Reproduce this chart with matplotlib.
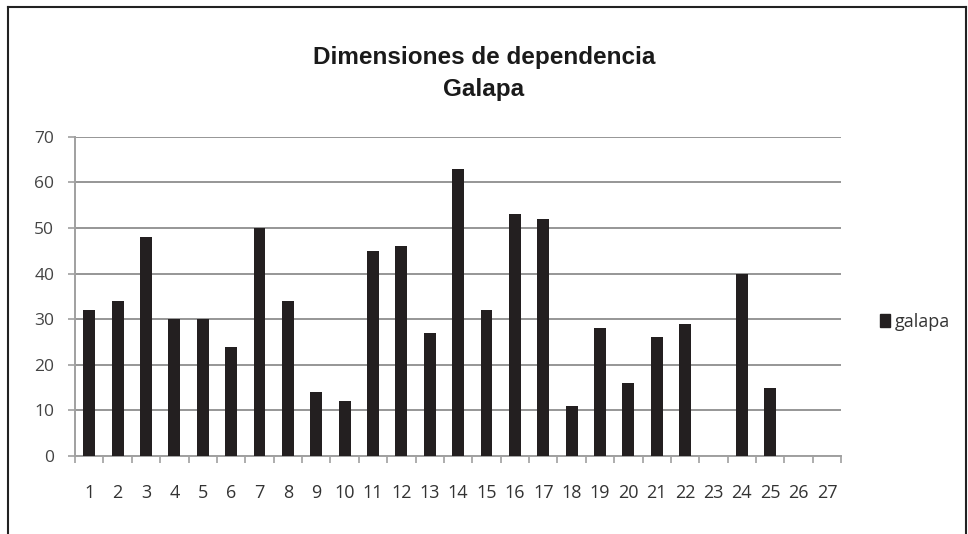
import matplotlib
matplotlib.use("Agg")
import matplotlib.pyplot as plt
from matplotlib.lines import Line2D
from matplotlib.patches import Patch
import numpy as np

categories = [str(i) for i in range(1, 28)]
values = [32, 34, 48, 30, 30, 24, 50, 34, 14, 12, 45, 46, 27, 63, 32, 53, 52,
          11, 28, 16, 26, 29, 0, 40, 15, 0, 0]
yticks = [0, 10, 20, 30, 40, 50, 60, 70]
series_name = "galapa"
title = "Dimensiones de dependencia\nGalapa"

fig = plt.figure(figsize=(9.68, 5.34), dpi=100)
ax = fig.add_axes([0.0775, 0.146, 0.869 - 0.0775, 0.744 - 0.146])

x = np.arange(len(categories))
ax.bar(x, values, width=0.42, color="#231f20", zorder=3)

ax.set_xlim(-0.5, len(categories) - 0.5)
ax.set_ylim(0, 70)
ax.set_yticks(yticks)
ax.set_yticklabels([str(v) for v in yticks])
ax.set_xticks(x)
ax.set_xticklabels(categories)
ax.set_xticks(np.arange(-0.5, len(categories) + 0.5, 1), minor=True)

ax.grid(axis="y", color="#969696", linewidth=1.4, zorder=0)
for s in ["top", "right"]:
    ax.spines[s].set_visible(False)
ax.spines["left"].set_color("#a0a0a0")
ax.spines["bottom"].set_color("#a0a0a0")
ax.spines["left"].set_linewidth(1.4)
ax.spines["bottom"].set_linewidth(1.4)

ax.tick_params(axis="x", which="major", length=0, pad=20, labelsize=13,
               labelcolor="#333333")
ax.tick_params(axis="x", which="minor", length=5, color="#a0a0a0", width=1.2)
ax.tick_params(axis="y", length=5, color="#a0a0a0", width=1.2, pad=10,
               labelsize=12.5, labelcolor="#444444")
for lbl in ax.get_xticklabels() + ax.get_yticklabels():
    lbl.set_family("Open Sans")

fig.text(0.5, 0.862, title, ha="center", va="center", fontsize=17.5,
         fontweight="bold", family="Liberation Sans", linespacing=1.5,
         color="#1a1a1a")

ax.legend(handles=[Patch(color="#231f20", label=series_name)],
          loc="center left", bbox_to_anchor=(1.03, 0.42), frameon=False,
          handlelength=0.55, handleheight=0.75, handletextpad=0.25,
          prop={"family": "Open Sans", "size": 13}, labelcolor="#333333")

# outer border (left, top, right)
fig.add_artist(Line2D([0.008, 0.008], [0.0, 0.987], transform=fig.transFigure,
                      color="#222222", linewidth=1.5))
fig.add_artist(Line2D([0.008, 0.998], [0.987, 0.987], transform=fig.transFigure,
                      color="#222222", linewidth=1.5))
fig.add_artist(Line2D([0.998, 0.998], [0.0, 0.987], transform=fig.transFigure,
                      color="#222222", linewidth=1.5))

fig.savefig("out.png", dpi=100)
